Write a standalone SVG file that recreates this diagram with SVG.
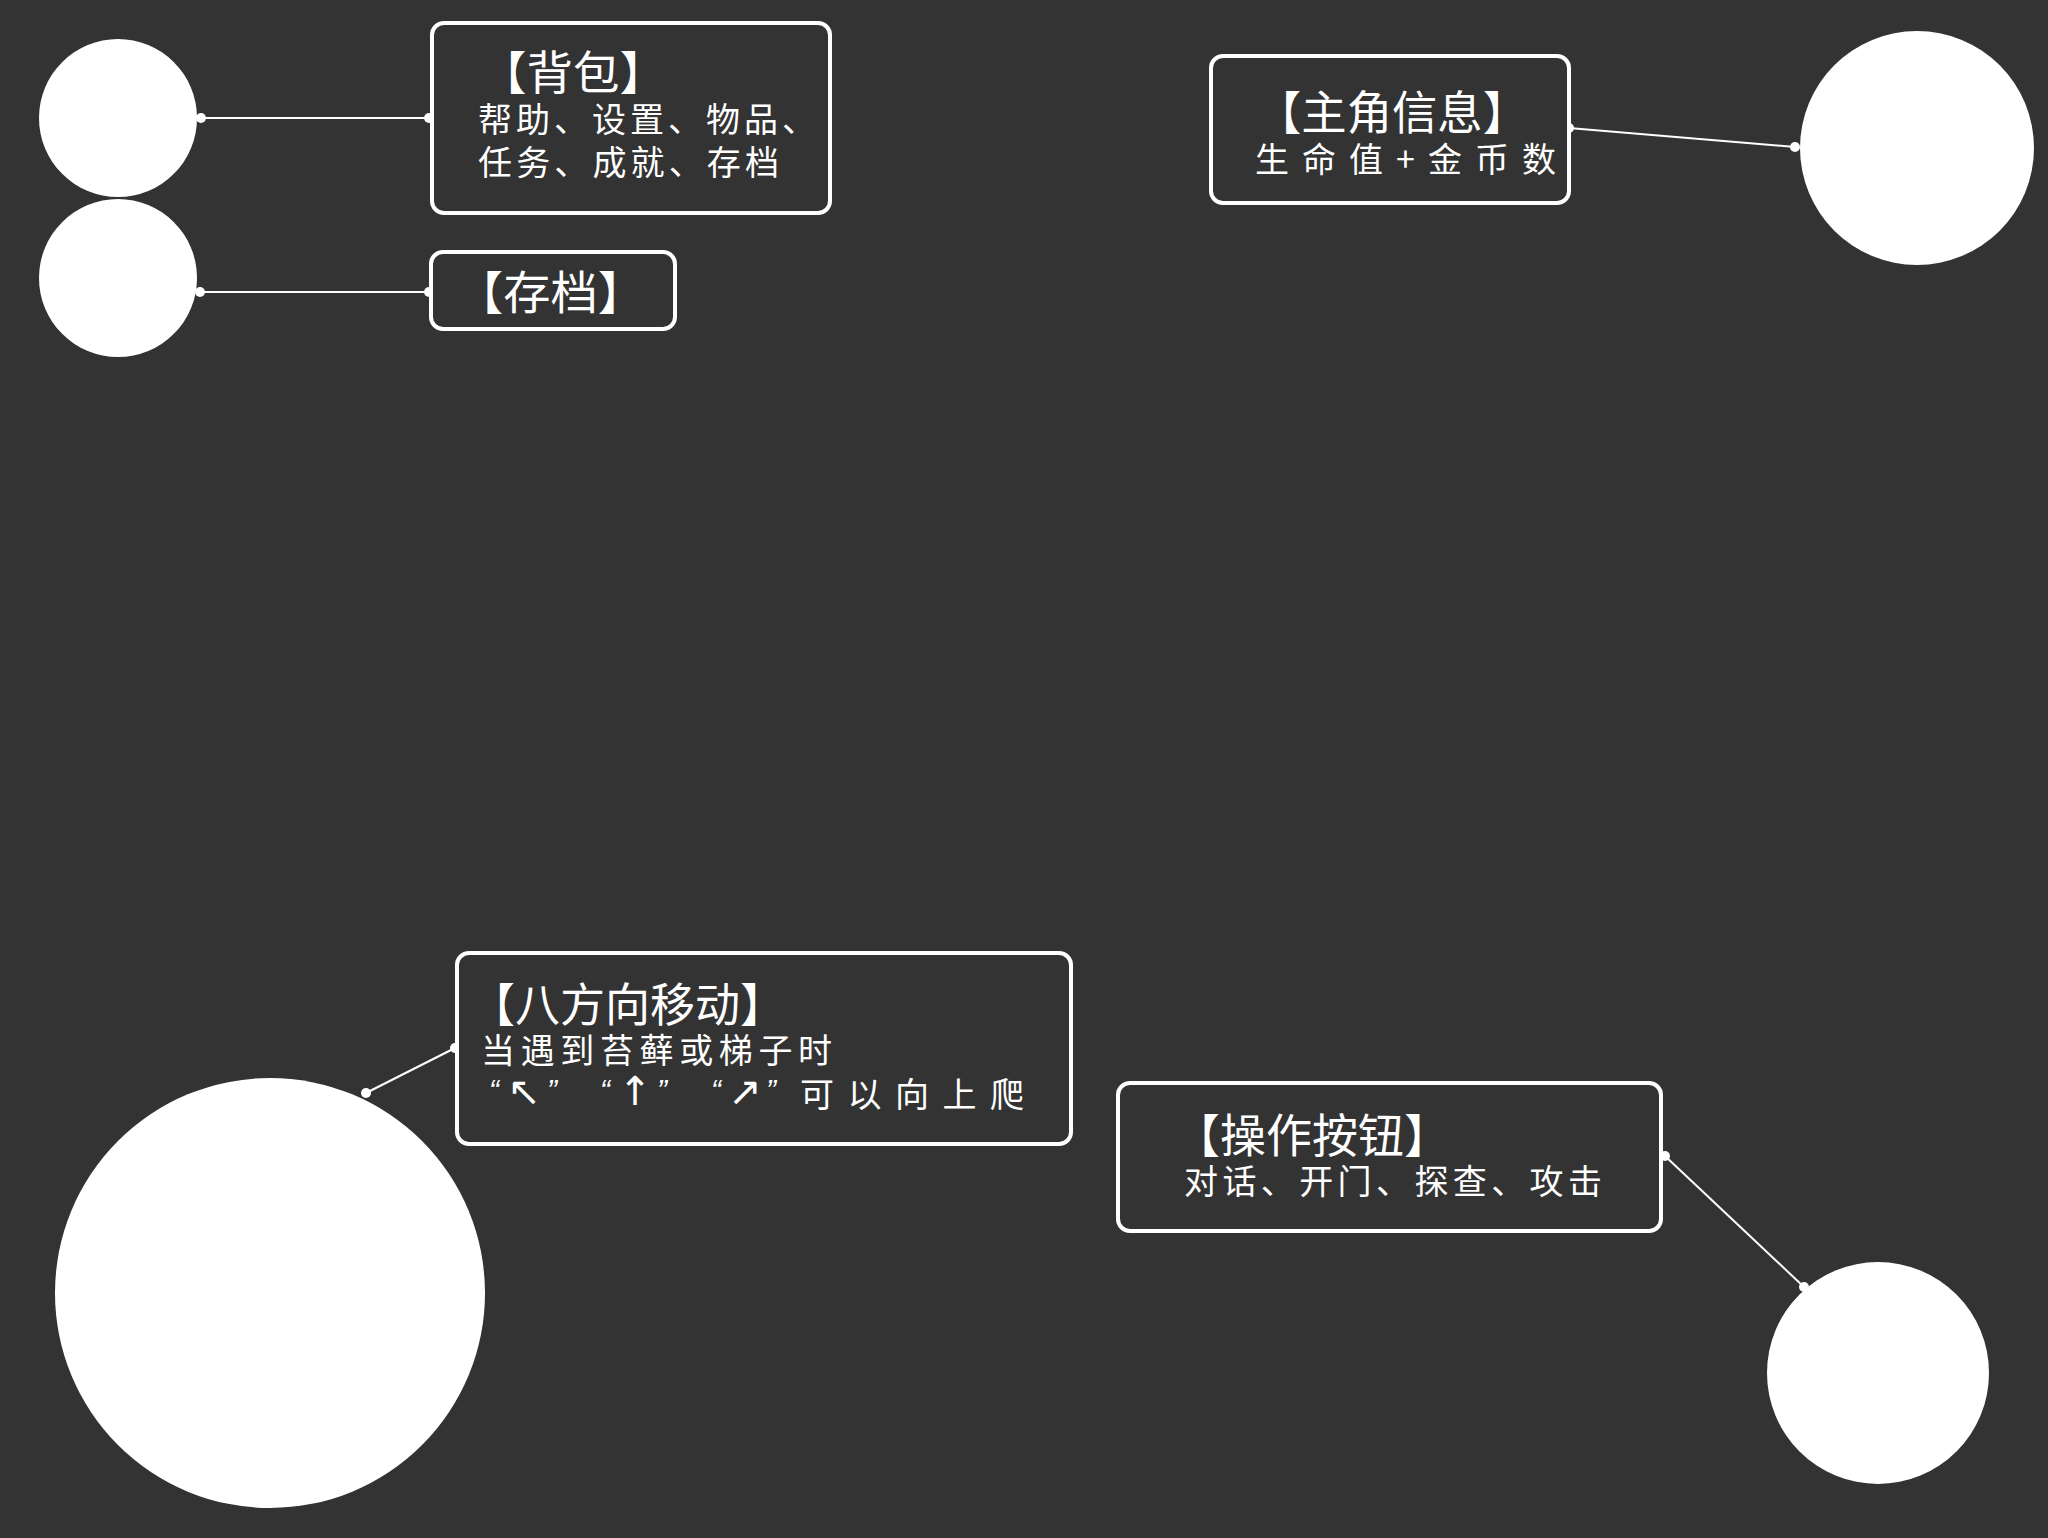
<svg xmlns="http://www.w3.org/2000/svg" width="2048" height="1538" viewBox="0 0 2048 1538">
<style>
.bg{fill:#333333}
.node{fill:#ffffff}
.box{fill:#333333;stroke:#ffffff;stroke-width:4}
.t{fill:#ffffff;font-family:"Noto Sans CJK SC","Noto Sans",sans-serif}
.title{font-size:46px}
.body{font-size:34px}
.q{fill:#ffffff;font-family:"Liberation Sans",sans-serif;font-size:30px;font-style:italic}
.ar{fill:#ffffff;font-family:"DejaVu Sans",sans-serif;font-size:40px;text-anchor:middle}
.conn line{stroke:#ffffff;stroke-width:2}
.conn circle{fill:#ffffff}
</style>
<rect class="bg" x="0" y="0" width="2048" height="1538"/>
<g id="connectors" class="conn">
<line x1="201" y1="118" x2="428" y2="118"/><circle cx="201" cy="118" r="5"/><circle cx="429" cy="118" r="5"/>
<line x1="200" y1="292" x2="428" y2="292"/><circle cx="200" cy="292" r="5"/><circle cx="429" cy="292" r="5"/>
<line x1="1569" y1="128" x2="1795" y2="147"/><circle cx="1569" cy="128" r="5"/><circle cx="1795" cy="147" r="5"/>
<line x1="455" y1="1048" x2="366" y2="1093"/><circle cx="455" cy="1048" r="5"/><circle cx="366" cy="1093" r="5"/>
<line x1="1665" y1="1156" x2="1804" y2="1287"/><circle cx="1665" cy="1156" r="5"/><circle cx="1804" cy="1287" r="5"/>
</g>
<g id="circle1"><circle class="node" cx="118" cy="118" r="79"/></g>
<g id="circle2"><circle class="node" cx="118" cy="278" r="79"/></g>
<g id="circle3"><circle class="node" cx="1917" cy="148" r="117"/></g>
<g id="circle4"><circle class="node" cx="270" cy="1293" r="215"/></g>
<g id="circle5"><circle class="node" cx="1878" cy="1373" r="111"/></g>
<g id="backpack">
<rect class="box" x="432" y="23" width="398" height="190" rx="12"/>
<text class="t title" x="480" y="89" textLength="186" lengthAdjust="spacingAndGlyphs">【背包】</text>
<text class="t body" x="478" y="132" textLength="338" lengthAdjust="spacing">帮助、设置、物品、</text>
<text class="t body" x="478" y="175" textLength="301" lengthAdjust="spacing">任务、成就、存档</text>
</g>
<g id="save">
<rect class="box" x="431" y="252" width="244" height="77" rx="12"/>
<text class="t title" x="456" y="309" font-size="48" textLength="189" lengthAdjust="spacingAndGlyphs">【存档】</text>
</g>
<g id="hero-info">
<rect class="box" x="1211" y="56" width="358" height="147" rx="12"/>
<text class="t title" x="1256" y="129" textLength="272" lengthAdjust="spacingAndGlyphs">【主角信息】</text>
<text class="t body" x="1255" y="172" font-size="33" textLength="301" lengthAdjust="spacing">生命值+金币数</text>
</g>
<g id="move">
<rect class="box" x="457" y="953" width="614" height="191" rx="12"/>
<text class="t title" x="470" y="1021" textLength="315" lengthAdjust="spacingAndGlyphs">【八方向移动】</text>
<text class="t body" x="481" y="1063" textLength="351" lengthAdjust="spacing">当遇到苔藓或梯子时</text>
<text class="q" x="489" y="1100">“</text>
<text class="ar" x="524" y="1105">↖</text>
<text class="q" x="547" y="1100">”</text>
<text class="q" x="600" y="1100">“</text>
<text class="ar" x="635" y="1105">↑</text>
<text class="q" x="657" y="1100">”</text>
<text class="q" x="711" y="1100">“</text>
<text class="ar" x="745" y="1105">↗</text>
<text class="q" x="766" y="1100">”</text>
<text class="t body" x="800" y="1107" font-size="33" textLength="224" lengthAdjust="spacing">可以向上爬</text>
</g>
<g id="action">
<rect class="box" x="1118" y="1083" width="543" height="148" rx="12"/>
<text class="t title" x="1174" y="1152" textLength="276" lengthAdjust="spacingAndGlyphs">【操作按钮】</text>
<text class="t body" x="1184" y="1194" textLength="418" lengthAdjust="spacing">对话、开门、探查、攻击</text>
</g>
</svg>
